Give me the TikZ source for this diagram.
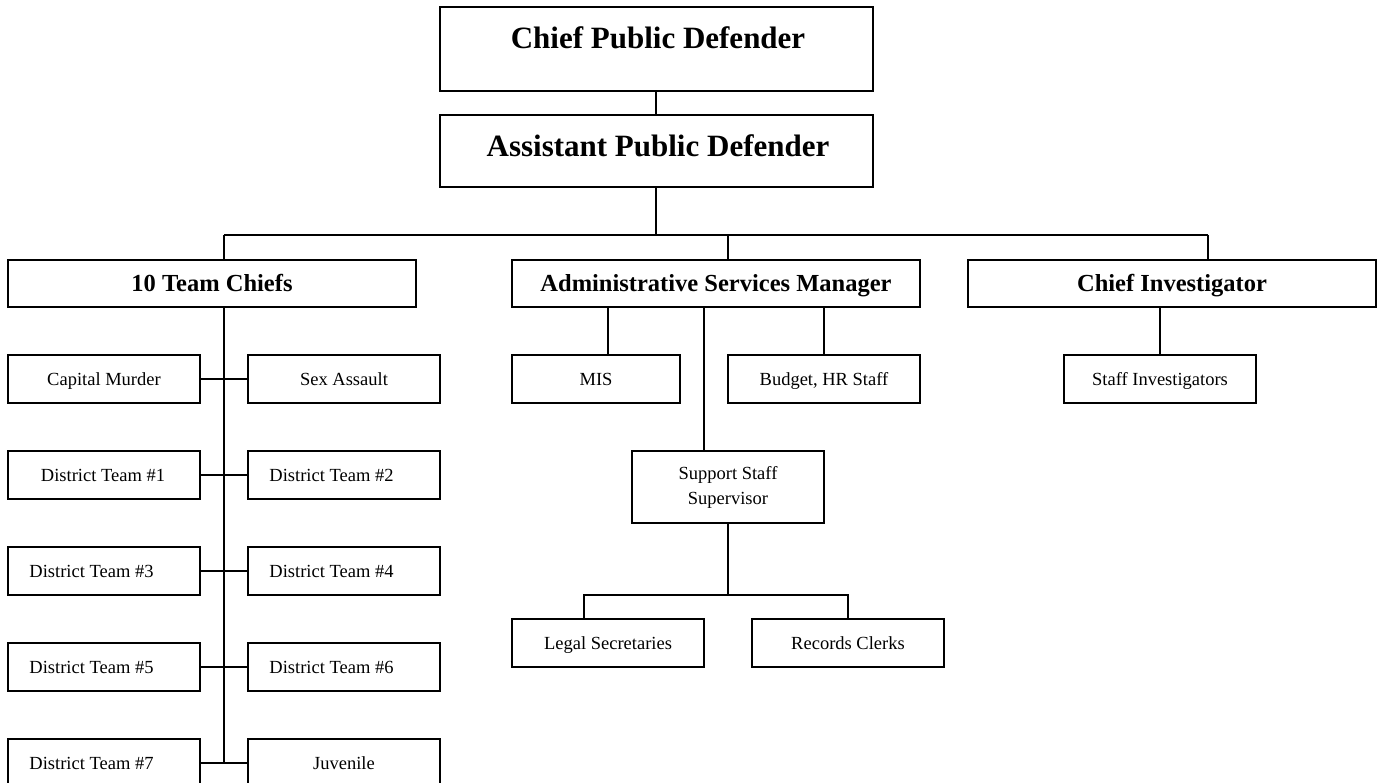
\documentclass[tikz,border=0pt]{standalone}
\usepackage{fontspec}
\setmainfont{Liberation Serif}
\begin{document}
\begin{tikzpicture}[x=1pt,y=-1pt,
  link/.style={draw, line width=1.8pt},
  box/.style={draw, line width=1.8pt, inner sep=0pt, minimum height=48pt, minimum width=192pt, font=\fontsize{18.5}{25}\selectfont, text height=12.2pt, text depth=0pt},
  twoline/.style={draw, line width=1.8pt, inner sep=0pt, minimum height=72pt, minimum width=192pt, font=\fontsize{18.5}{25}\selectfont, align=center},
  midbox/.style={box, minimum height=47pt, minimum width=408pt, font=\bfseries\fontsize{24.5}{29}\selectfont, text height=16.5pt},
  topbox/.style={draw, line width=1.8pt, inner sep=0pt, minimum width=433pt},
  toptxt/.style={inner sep=0pt, font=\bfseries\fontsize{31}{37}\selectfont, text height=21pt, text depth=0pt},
  txt/.style={inner sep=0pt, font=\fontsize{18.5}{22}\selectfont, text height=12.2pt, text depth=0pt}]
\useasboundingbox (0,0) rectangle (1380,783);
% top
\node[topbox, minimum height=84pt] (cpd) at (656.5,49) {};
\node[toptxt] (cpdt) at (658,38.5) {Chief Public Defender};
\node[topbox, minimum height=72pt] (apd) at (656.5,151) {};
\node[toptxt] (apdt) at (658,146) {Assistant Public Defender};
% second level
\node[midbox] (tc) at (212,283.5) {10 Team Chiefs};
\node[midbox] (asm) at (716,283.5) {Administrative Services Manager};
\node[midbox] (ci) at (1172,283.5) {Chief Investigator};
% team chiefs children
\node[box] (cm) at (104,379) {Capital Murder};
\node[box] (sa) at (344,379) {Sex Assault};
\node[box] (d1) at (104,475) {};
\node[txt] (d1t) at (103,475) {District Team \#1};
\node[box] (d2) at (344,475) {};
\node[txt] (d2t) at (331.5,475) {District Team \#2};
\node[box] (d3) at (104,571) {};
\node[txt] (d3t) at (91.5,571) {District Team \#3};
\node[box] (d4) at (344,571) {};
\node[txt] (d4t) at (331.5,571) {District Team \#4};
\node[box] (d5) at (104,667) {};
\node[txt] (d5t) at (91.5,667) {District Team \#5};
\node[box] (d6) at (344,667) {};
\node[txt] (d6t) at (331.5,667) {District Team \#6};
\node[box] (d7) at (104,763) {};
\node[txt] (d7t) at (91.5,763) {District Team \#7};
\node[box] (juv) at (344,763) {Juvenile};
% admin children
\node[box, minimum width=168pt] (mis) at (596,379) {MIS};
\node[box] (bud) at (824,379) {Budget, HR Staff};
\node[twoline] (sss) at (728,487) {Support Staff\\Supervisor};
\node[box] (leg) at (608,643) {Legal Secretaries};
\node[box] (rec) at (848,643) {Records Clerks};
% investigator child
\node[box] (si) at (1160,379) {Staff Investigators};
% connector coordinates
\coordinate (bar) at (656,235);
\coordinate (dtc) at (224,235);
\coordinate (dasm) at (728,235);
\coordinate (dci) at (1208,235);
\coordinate (trend) at (224,763);
\coordinate (xmis) at (608,0);
\coordinate (xsss) at (704,0);
\coordinate (bar2) at (728,595);
\coordinate (lleg) at (584,595);
\coordinate (rrec) at (848,595);
% connectors
\draw[link] (apd.north -| bar) -- (cpd.south -| bar);
\draw[link] (apd.south -| bar) -- (bar);
\draw[link] (dtc) -- (dci);
\draw[link] (dtc) -- (tc.north -| dtc);
\draw[link] (dasm) -- (asm.north -| dasm);
\draw[link] (dci) -- (ci.north -| dci);
\draw[link] (tc.south -| dtc) -- (trend);
\draw[link] (cm.east) -- (sa.west);
\draw[link] (d1.east) -- (d2.west);
\draw[link] (d3.east) -- (d4.west);
\draw[link] (d5.east) -- (d6.west);
\draw[link] (d7.east) -- (juv.west);
\draw[link] (asm.south -| xmis) -- (mis.north -| xmis);
\draw[link] (asm.south -| bud.north) -- (bud.north);
\draw[link] (asm.south -| xsss) -- (sss.north -| xsss);
\draw[link] (sss.south) -- (bar2);
\draw[link] (leg.north -| lleg) -- (lleg) -- (rrec) -- (rec.north);
\draw[link] (ci.south -| si.north) -- (si.north);
\end{tikzpicture}
\end{document}
